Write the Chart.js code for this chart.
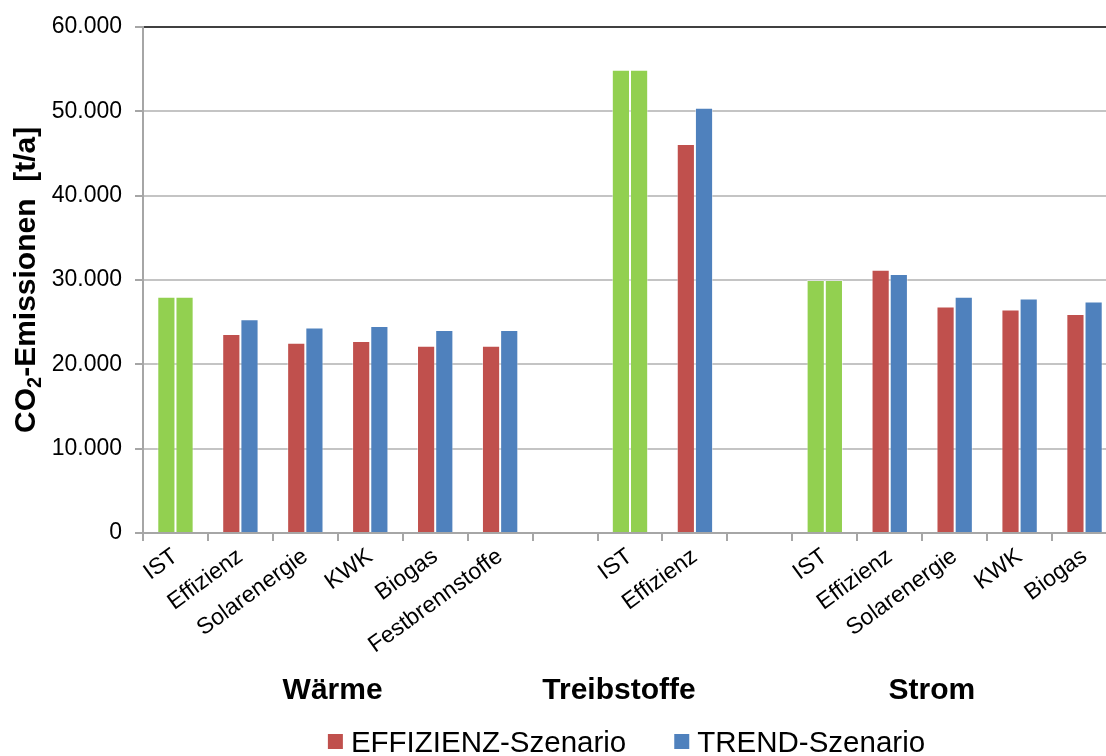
<!DOCTYPE html>
<html lang="de">
<head>
<meta charset="utf-8">
<title>CO2-Emissionen nach Szenario</title>
<script src="https://cdn.jsdelivr.net/npm/chart.js@4.4.1/dist/chart.umd.min.js"></script>
<style>
  html, body { margin: 0; padding: 0; background: #fff; overflow: hidden; }
  #wrap { width: 1106px; height: 756px; overflow: hidden; }
  canvas { display: block; }
</style>
</head>
<body>
<div id="wrap"><canvas id="chart" width="1130" height="756"></canvas></div>
<script>
// Categories (empty strings separate the three sectors)
const categories = ['IST', 'Effizienz', 'Solarenergie', 'KWK', 'Biogas', 'Festbrennstoffe', '',
                    'IST', 'Effizienz', '',
                    'IST', 'Effizienz', 'Solarenergie', 'KWK', 'Biogas'];

// CO2 emissions in t/a
const effizienzSzenario = [28000, 23600, 22550, 22750, 22200, 22200, null,
                           54900, 46100, null,
                           30000, 31200, 26850, 26500, 25950];
const trendSzenario     = [28000, 25350, 24350, 24550, 24050, 24050, null,
                           54900, 50400, null,
                           30000, 30700, 28000, 27800, 27450];

// Sector captions under the category labels (position in category units)
const sectorNames   = ['Wärme', 'Treibstoffe', 'Strom'];
const sectorCenters = [2.42, 6.83, 11.65];

const yTicks = [0, 10000, 20000, 30000, 40000, 50000, 60000];

const GREEN = '#92D050';
const RED   = '#C0504D';
const BLUE  = '#4F81BD';
const FONT  = "'Liberation Sans', Arial, sans-serif";

const colorFor = (base) => categories.map(c => c === 'IST' ? GREEN : base);

// Rotated axis title with subscript, sector captions and the legend
const decorations = {
  id: 'decorations',
  afterDraw(chart) {
    const ctx = chart.ctx;
    const area = chart.chartArea;
    const x = chart.scales.x;

    // y-axis title "CO2-Emissionen  [t/a]"
    ctx.save();
    ctx.fillStyle = '#000';
    ctx.translate(35, (area.top + area.bottom) / 2);
    ctx.rotate(-Math.PI / 2);
    const big = 'bold 30px ' + FONT;
    const small = 'bold 20px ' + FONT;
    const parts = [['CO', big, 0], ['2', small, 6], ['-Emissionen  [t/a]', big, 0]];
    let total = 0;
    parts.forEach(p => { ctx.font = p[1]; total += ctx.measureText(p[0]).width; });
    let cx = -total / 2;
    ctx.textBaseline = 'alphabetic';
    ctx.textAlign = 'left';
    parts.forEach(p => {
      ctx.font = p[1];
      ctx.fillText(p[0], cx, p[2]);
      cx += ctx.measureText(p[0]).width;
    });
    ctx.restore();

    // sector captions
    ctx.save();
    ctx.fillStyle = '#000';
    ctx.font = 'bold 30px ' + FONT;
    ctx.textAlign = 'center';
    ctx.textBaseline = 'alphabetic';
    sectorNames.forEach((name, i) => {
      ctx.fillText(name, x.getPixelForValue(sectorCenters[i]), 699);
    });
    ctx.restore();

    // legend
    ctx.save();
    ctx.font = '29.5px ' + FONT;
    ctx.textBaseline = 'alphabetic';
    ctx.textAlign = 'left';
    const items = [
      { text: chart.data.datasets[0].label, color: RED },
      { text: chart.data.datasets[1].label, color: BLUE }
    ];
    const box = 15, boxGap = 8, itemGap = 48;
    let width = 0;
    items.forEach((it, i) => {
      it.w = ctx.measureText(it.text).width;
      width += box + boxGap + it.w + (i ? itemGap : 0);
    });
    let lx = (area.left + area.right) / 2 - 3.5 - width / 2;
    items.forEach(it => {
      ctx.fillStyle = it.color;
      ctx.fillRect(lx, 734, box, box);
      ctx.fillStyle = '#000';
      ctx.fillText(it.text, lx + box + boxGap, 751.5);
      lx += box + boxGap + it.w + itemGap;
    });
    ctx.restore();
  }
};

new Chart(document.getElementById('chart'), {
  type: 'bar',
  data: {
    labels: categories,
    datasets: [
      {
        label: 'EFFIZIENZ-Szenario',
        data: effizienzSzenario,
        backgroundColor: colorFor(RED),
        borderColor: 'rgba(255,255,255,0.45)',
        borderWidth: 1
      },
      {
        label: 'TREND-Szenario',
        data: trendSzenario,
        backgroundColor: colorFor(BLUE),
        borderColor: 'rgba(255,255,255,0.45)',
        borderWidth: 1
      }
    ]
  },
  options: {
    responsive: false,
    devicePixelRatio: 1,
    animation: false,
    events: [],
    categoryPercentage: 0.56,
    barPercentage: 1.0,
    layout: { padding: { top: 25, right: 13, bottom: 0, left: 0 } },
    plugins: {
      legend: { display: false },
      tooltip: { enabled: false }
    },
    scales: {
      x: {
        offset: true,
        grid: {
          display: true,
          drawOnChartArea: false,
          drawTicks: true,
          tickLength: 8,
          color: '#a6a6a6',
          lineWidth: 2,
          offset: true
        },
        border: { display: true, color: '#a6a6a6', width: 2 },
        ticks: {
          autoSkip: false,
          minRotation: 36,
          maxRotation: 36,
          padding: 2,
          color: '#000',
          font: { family: FONT, size: 23 }
        },
        afterFit(scale) { scale.height = 223; }
      },
      y: {
        min: 0,
        max: 60000,
        afterBuildTicks(scale) { scale.ticks = yTicks.map(v => ({ value: v })); },
        ticks: {
          padding: 13,
          color: '#000',
          font: { family: FONT, size: 23 },
          callback: v => v === 0 ? '0' : v.toLocaleString('de-DE')
        },
        grid: {
          color: ctx => ctx.tick && ctx.tick.value === 60000 ? '#404040' : '#c4c4c4',
          lineWidth: 2,
          tickLength: 8,
          tickColor: '#a6a6a6'
        },
        border: { display: true, color: '#a6a6a6', width: 2 },
        afterFit(scale) { scale.width = 143; }
      }
    }
  },
  plugins: [decorations]
});
</script>
</body>
</html>
